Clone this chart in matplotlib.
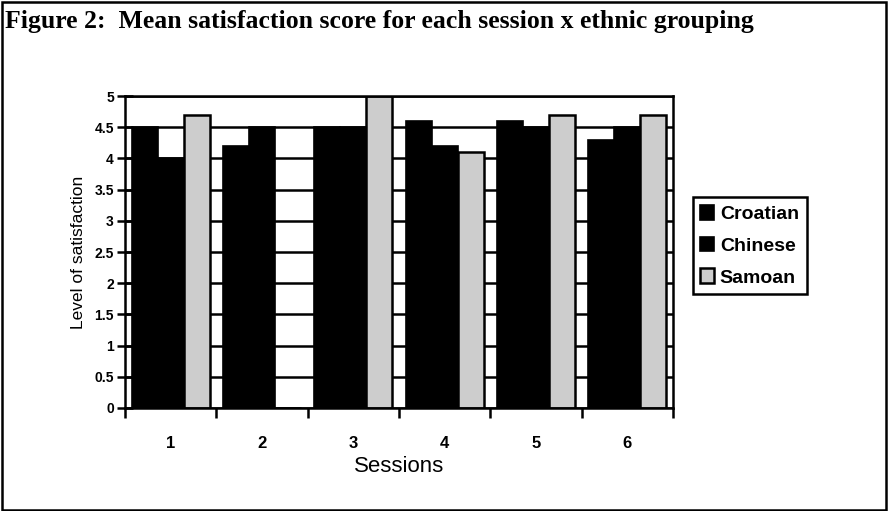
import numpy as np
import matplotlib
matplotlib.use('Agg')
import matplotlib.pyplot as plt

# 各場次 x 族群之平均滿意度
sessions = ['1', '2', '3', '4', '5', '6']
croatian = [4.5, 4.2, 4.5, 4.6, 4.6, 4.3]
chinese = [4.0, 4.5, 4.5, 4.2, 4.5, 4.5]
samoan = [4.7, 0, 5.0, 4.1, 4.7, 4.7]
yticks = [0, 0.5, 1, 1.5, 2, 2.5, 3, 3.5, 4, 4.5, 5]
ytick_labels = ['0', '0.5', '1', '1.5', '2', '2.5', '3', '3.5', '4', '4.5', '5']

plt.rcParams['font.family'] = ['Liberation Sans', 'DejaVu Sans']

fig = plt.figure(figsize=(8.88, 5.11), dpi=100)
ax = fig.add_axes([0.1408, 0.2016, 0.758 - 0.1408, 0.812 - 0.2016])

x = np.arange(len(sessions))
w = 0.285
ax.bar(x - w, croatian, w, color='black', edgecolor='black', lw=1.2, label='Croatian', zorder=3)
ax.bar(x, chinese, w, color='black', edgecolor='black', lw=1.2, label='Chinese', zorder=3)
ax.bar(x + w, samoan, w, color='#cdcdcd', edgecolor='black', lw=1.8, label='Samoan', zorder=3)

ax.set_xlim(-0.5, len(sessions) - 0.5)
ax.set_ylim(0, 5)
ax.set_yticks(yticks)
ax.set_yticklabels(ytick_labels, fontsize=10, fontweight='bold')
ax.set_xticks(x)
ax.set_xticklabels(sessions, fontsize=12, fontweight='bold')
ax.tick_params(axis='x', length=0, pad=20)
ax.set_xticks(np.arange(len(sessions) + 1) - 0.5, minor=True)
ax.tick_params(axis='x', which='minor', length=7, width=1.8, direction='out')
ax.tick_params(axis='y', length=12, width=1.8, direction='inout', pad=2)

# 水平格線 (在長條之後)
ax.yaxis.grid(True, color='black', lw=1.8, zorder=0)
ax.set_axisbelow(True)
for s in ax.spines.values():
    s.set_linewidth(1.8)
    s.set_zorder(4)

ax.set_ylabel('Level of satisfaction', fontsize=12.5, labelpad=6)
ax.set_xlabel('Sessions', fontsize=16, labelpad=4)

leg = ax.legend(loc='upper left', bbox_to_anchor=(0.78, 0.6145), bbox_transform=fig.transFigure,
                prop={'size': 14, 'weight': 'bold'}, fancybox=False, framealpha=1,
                edgecolor='black', handlelength=0.7, handleheight=0.8, handletextpad=0.3,
                labelspacing=0.7, borderpad=0.4, borderaxespad=0)
leg.get_frame().set_linewidth(1.8)

fig.text(0.006, 0.958, 'Figure 2:  Mean satisfaction score for each session x ethnic grouping',
         fontsize=18.5, fontweight='bold', family='Liberation Serif', va='center', ha='left')

# 外框
fig.patches.append(plt.Rectangle((0.002, 0.002), 0.996, 0.994, transform=fig.transFigure,
                                 fill=False, edgecolor='black', lw=1.8))

fig.savefig('out.png', dpi=100)
